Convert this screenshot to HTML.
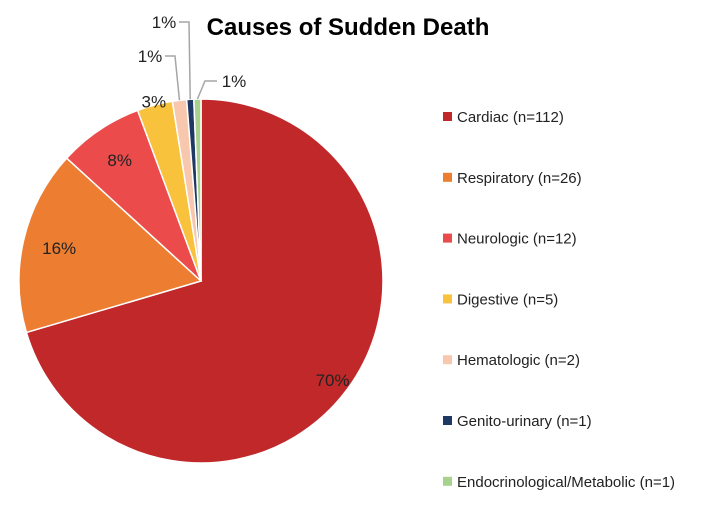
<!DOCTYPE html>
<html><head><meta charset="utf-8"><style>
html,body{margin:0;padding:0;background:#fff;}
svg{display:block;font-family:"Liberation Sans",sans-serif;}
</style></head><body>
<svg id="chart" width="726" height="511">
<text x="348" y="35" text-anchor="middle" font-size="24" font-weight="bold" fill="#000">Causes of Sudden Death</text>
<g id="slices"></g><g id="labels"></g><g id="legend"></g>
</svg>
<script>
const categories = ["Cardiac (n=112)","Respiratory (n=26)","Neurologic (n=12)","Digestive (n=5)","Hematologic (n=2)","Genito-urinary (n=1)","Endocrinological/Metabolic (n=1)"];
const counts = [112,26,12,5,2,1,1];
const colors = ["#C0282A","#ED7D31","#EB4B4B","#F9C23C","#F8C8AE","#1F3864","#A9D18E"];
const NS="http://www.w3.org/2000/svg";
const cx=201, cy=281, R=182;
const total=counts.reduce((a,b)=>a+b,0);
function pt(angDeg,r){const a=angDeg*Math.PI/180;return [cx+r*Math.sin(a), cy-r*Math.cos(a)];}
const sg=document.getElementById('slices'), lg=document.getElementById('labels'), leg=document.getElementById('legend');
let start=0;
counts.forEach((v,i)=>{
  const sweep=v/total*360, end=start+sweep, mid=start+sweep/2;
  const p0=pt(start,R), p1=pt(end,R);
  const path=document.createElementNS(NS,'path');
  path.setAttribute('d',`M${cx},${cy} L${p0[0]},${p0[1]} A${R},${R} 0 ${sweep>180?1:0} 1 ${p1[0]},${p1[1]} Z`);
  path.setAttribute('fill',colors[i]);path.setAttribute('stroke','#fff');path.setAttribute('stroke-width','1.5');
  
  
  sg.appendChild(path);
  const pct=Math.round(v/total*100)+'%';
  const t=document.createElementNS(NS,'text');
  t.setAttribute('font-size','17');t.setAttribute('fill','#222');t.setAttribute('text-anchor','middle');
  
  
  let lx,ly;
  if(sweep>15){const f=i===0?0.8:0.8;[lx,ly]=pt(mid,R*f);lx+= i===0?15:0;ly+= i===0?12:0;}
  else if(sweep>5){[lx,ly]=pt(mid,R*1.02);}
  else{
    const e=pt(mid,R);
    const n=i-4;
    const tops=[[175,56,150],[189,22,164],[205,81,234]];
    const [ex,ey,tx]=tops[n%3];
    const line=document.createElementNS(NS,'polyline');
    const hx = n===2 ? ex+12 : ex-10;
    line.setAttribute('points',`${e[0]},${e[1]} ${ex},${ey} ${hx},${ey}`);
    line.setAttribute('fill','none');line.setAttribute('stroke','#a6a6a6');line.setAttribute('stroke-width','1.5');
    
    
    lg.appendChild(line);
    lx=tx;ly=ey;
  }
  t.setAttribute('x',lx);t.setAttribute('y',ly+6);t.textContent=pct;lg.appendChild(t);
  const ry=116+i*60.8;
  const sq=document.createElementNS(NS,'rect');
  sq.setAttribute('x',443);sq.setAttribute('y',ry-4);sq.setAttribute('width',9);sq.setAttribute('height',9);sq.setAttribute('fill',colors[i]);
  
  
  leg.appendChild(sq);
  const lt=document.createElementNS(NS,'text');
  lt.setAttribute('x',457);lt.setAttribute('y',ry+6);lt.setAttribute('font-size','15');lt.setAttribute('fill','#222');
  lt.textContent=categories[i];
  
  
  leg.appendChild(lt);
  start=end;
});
</script>
</body></html>
